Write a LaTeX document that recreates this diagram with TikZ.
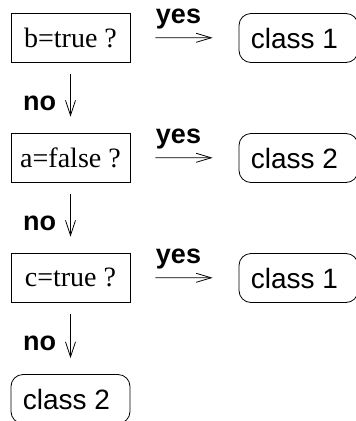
\documentclass[tikz,border=0pt]{standalone}
\usepackage{fontspec}
\setmainfont{Liberation Serif}
\setsansfont{Liberation Sans}
\usetikzlibrary{arrows.meta}
\tikzset{
  test/.style={draw, line width=0.8pt, rectangle, minimum width=119pt, minimum height=49pt, inner sep=0pt, font=\fontsize{28}{30}\selectfont},
  cls/.style={draw, line width=0.8pt, rectangle, rounded corners=12pt, minimum width=119pt, minimum height=49pt, inner sep=0pt, font=\sffamily\fontsize{28}{30}\selectfont},
  lbl/.style={inner sep=0pt, font=\sffamily\bfseries\fontsize{27}{30}\selectfont},
  yesarrow/.style={line width=0.8pt, -{Straight Barb[length=15pt,width=9pt,line width=0.8pt]}, shorten <=25pt, shorten >=26pt},
  noarrow/.style={line width=0.8pt, -{Straight Barb[length=15pt,width=10pt,line width=0.8pt]}, shorten <=12pt, shorten >=16pt}
}
\begin{document}
\begin{tikzpicture}[x=1pt,y=-1pt]
\useasboundingbox (0,0) rectangle (356,421);
\node[test] (q1) at (70.5,37.5) {b=true ?};
\node[test] (q2) at (70.5,157.5) {a=false ?};
\node[test] (q3) at (70.5,277.5) {c=true ?};
\node[cls] (c1) at (298.5,38) {class 1\kern8pt};
\node[cls] (c2) at (298.5,158) {class 2\kern8pt};
\node[cls] (c3) at (298.5,278) {class 1\kern8pt};
\node[cls] (c4) at (70.5,399) {class 2\kern8pt};
\draw[yesarrow] (q1) -- (c1);
\draw[yesarrow] (q2) -- (c2);
\draw[yesarrow] (q3) -- (c3);
\node[lbl] (y1) at (178.5,19) {yes};
\node[lbl] (y2) at (178.5,139) {yes};
\node[lbl] (y3) at (178.5,259) {yes};
\draw[noarrow] (q1) -- (q2);
\draw[noarrow] (q2) -- (q3);
\draw[noarrow] (q3) -- (c4);
\node[lbl] (n1) at (39.5,103) {no};
\node[lbl] (n2) at (39.5,223) {no};
\node[lbl] (n3) at (39.5,343) {no};
\end{tikzpicture}
\end{document}
